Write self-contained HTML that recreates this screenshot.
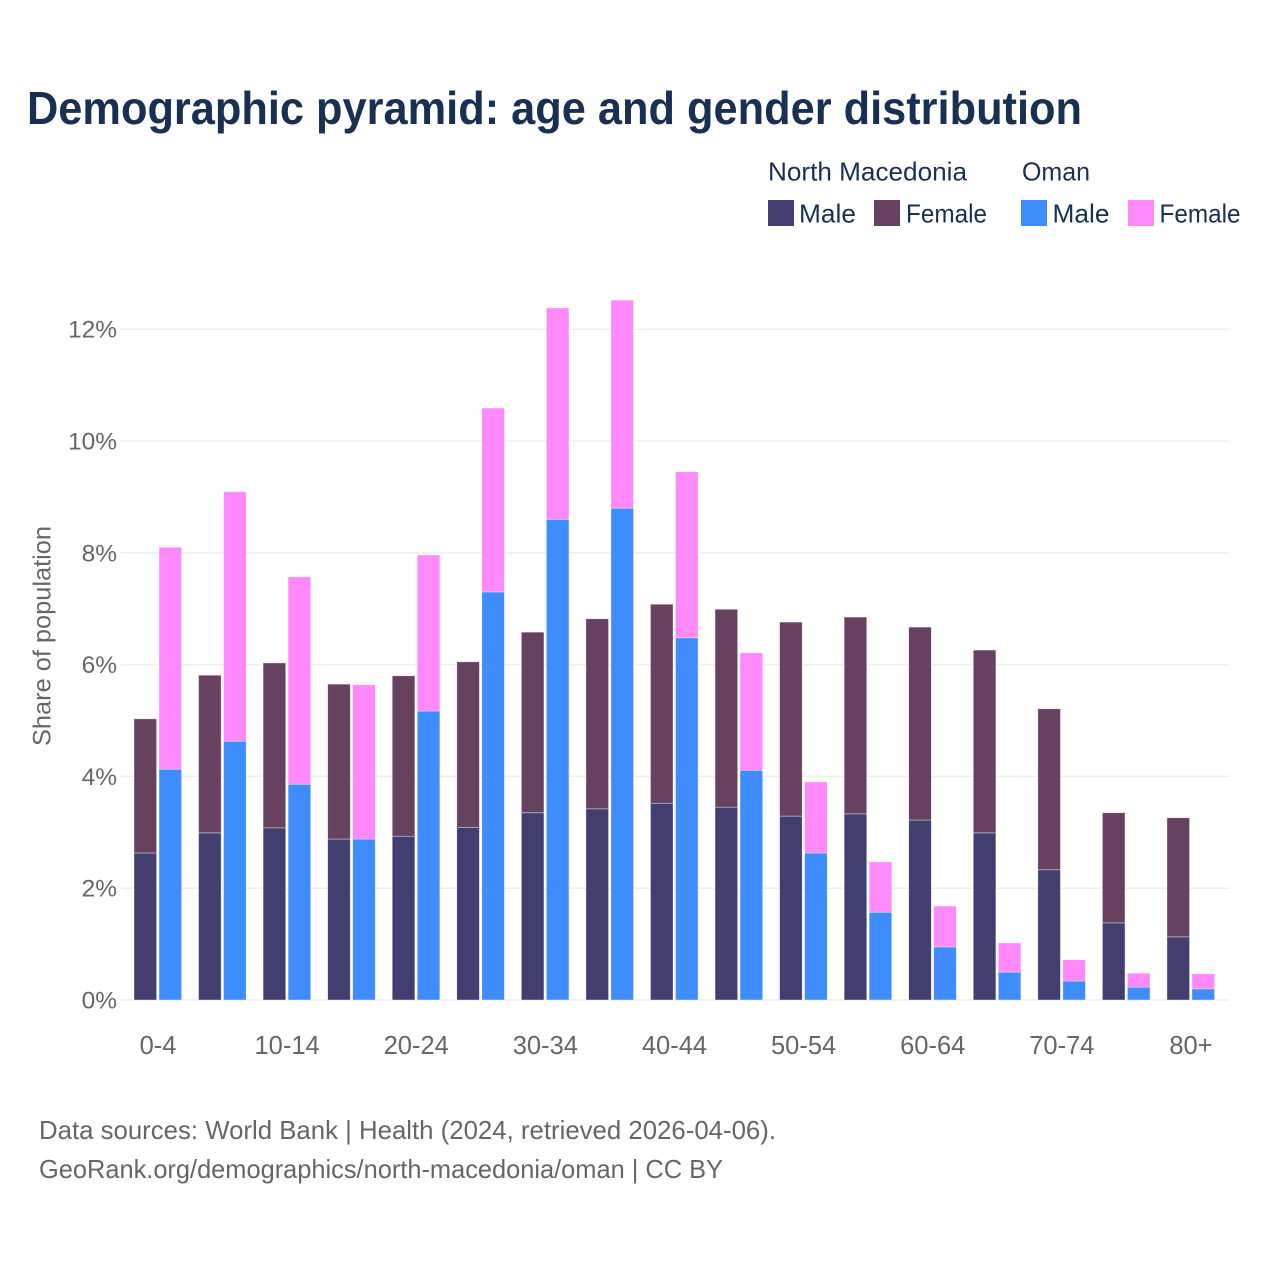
<!DOCTYPE html>
<html lang="en">
<head>
<meta charset="utf-8">
<title>Demographic pyramid: age and gender distribution</title>
<style>
html,body{margin:0;padding:0;background:#fff;width:1280px;height:1280px;overflow:hidden}
svg{display:block;font-family:"Liberation Sans",sans-serif}
</style>
</head>
<body>
<svg id="chart" xmlns="http://www.w3.org/2000/svg" width="1280" height="1280" viewBox="0 0 1280 1280">
  <rect x="0" y="0" width="1280" height="1280" fill="#ffffff"/>
  <text x="27" y="124" font-size="46" font-weight="700" fill="#1a3052" textLength="1055" lengthAdjust="spacingAndGlyphs">Demographic pyramid: age and gender distribution</text>

  <g font-size="26" fill="#1a3052">
    <text x="768" y="180.5" textLength="199" lengthAdjust="spacingAndGlyphs">North Macedonia</text>
    <text x="1022" y="180.5" textLength="68" lengthAdjust="spacingAndGlyphs">Oman</text>
    <rect x="768" y="200" width="26" height="26" fill="#433e70"/>
    <text x="799" y="222.5" textLength="57" lengthAdjust="spacingAndGlyphs">Male</text>
    <rect x="874" y="200" width="26" height="26" fill="#674160"/>
    <text x="906" y="222.5" textLength="81" lengthAdjust="spacingAndGlyphs">Female</text>
    <rect x="1021" y="200" width="26" height="26" fill="#3f8cff"/>
    <text x="1052.5" y="222.5" textLength="57" lengthAdjust="spacingAndGlyphs">Male</text>
    <rect x="1128" y="200" width="26" height="26" fill="#ff88fb"/>
    <text x="1159.5" y="222.5" textLength="81" lengthAdjust="spacingAndGlyphs">Female</text>
  </g>

  <g id="grid"></g>
  <g id="y-ticks"></g>
  <g id="bars"></g>
  <g id="x-ticks"></g>

  <text transform="translate(50.5,636) rotate(-90)" text-anchor="middle" font-size="25" fill="#666666" textLength="220" lengthAdjust="spacingAndGlyphs">Share of population</text>

  <g font-size="26" fill="#666666">
    <text x="39" y="1139" textLength="737" lengthAdjust="spacingAndGlyphs">Data sources: World Bank | Health (2024, retrieved 2026-04-06).</text>
    <text x="39" y="1178" textLength="684" lengthAdjust="spacingAndGlyphs">GeoRank.org/demographics/north-macedonia/oman | CC BY</text>
  </g>
</svg>
<script>
const categories = ["0-4","5-9","10-14","15-19","20-24","25-29","30-34","35-39","40-44","45-49","50-54","55-59","60-64","65-69","70-74","75-79","80+"];
const xTickLabels = ["0-4","10-14","20-24","30-34","40-44","50-54","60-64","70-74","80+"];
const yTickValues = [0,2,4,6,8,10,12];
const northMacedoniaMale = [2.63,2.99,3.08,2.88,2.93,3.09,3.35,3.42,3.52,3.45,3.29,3.33,3.22,2.99,2.33,1.38,1.13];
const northMacedoniaFemale = [2.40,2.82,2.95,2.77,2.87,2.96,3.23,3.40,3.56,3.54,3.47,3.52,3.45,3.27,2.88,1.97,2.13];
const omanMale = [4.13,4.63,3.86,2.88,5.17,7.30,8.60,8.80,6.48,4.11,2.63,1.57,0.95,0.50,0.34,0.23,0.20];
const omanFemale = [3.97,4.46,3.71,2.76,2.79,3.29,3.78,3.72,2.97,2.10,1.27,0.90,0.73,0.52,0.38,0.25,0.27];

const NS = "http://www.w3.org/2000/svg";
const xCenter = function (i) { return 158 + i * 64.56; };
const yPos = function (v) { return 1000 - v * 55.9; };
const BAR_W = 22.6;

function svgEl(tag, parent, attrs) {
  const el = document.createElementNS(NS, tag);
  Object.keys(attrs).forEach(function (k) { el.setAttribute(k, attrs[k]); });
  parent.appendChild(el);
  return el;
}

const gridLayer = document.getElementById("grid");
const yLayer = document.getElementById("y-ticks");
yTickValues.forEach(function (v) {
  const line = svgEl("line", gridLayer, {x1: 121, x2: 1229, y1: yPos(v), y2: yPos(v), stroke: "#eeeeee", "stroke-width": 1.5});
  
  
  const label = svgEl("text", yLayer, {x: 117, y: yPos(v) + 8.5, "text-anchor": "end", "font-size": 24.5, fill: "#666666"});
  
  
  label.textContent = v + "%";
});

const barLayer = document.getElementById("bars");
function drawBar(x, v0, v1, fill) {
  const bar = svgEl("rect", barLayer, {x: x, y: yPos(v1), width: BAR_W, height: yPos(v0) - yPos(v1), fill: fill, stroke: "#ffffff", "stroke-opacity": 0.55, "stroke-width": 0.7});
  
  
}
categories.forEach(function (c, i) {
  const cx = xCenter(i);
  drawBar(cx - 24, 0, northMacedoniaMale[i], "#433e70");
  drawBar(cx - 24, northMacedoniaMale[i], northMacedoniaMale[i] + northMacedoniaFemale[i], "#674160");
  drawBar(cx + 1, 0, omanMale[i], "#3f8cff");
  drawBar(cx + 1, omanMale[i], omanMale[i] + omanFemale[i], "#ff88fb");
});

const xLayer = document.getElementById("x-ticks");
xTickLabels.forEach(function (t) {
  const label = svgEl("text", xLayer, {x: xCenter(categories.indexOf(t)), y: 1054, "text-anchor": "middle", "font-size": 25.5, fill: "#666666"});
  
  
  label.textContent = t;
});
</script>
</body>
</html>
